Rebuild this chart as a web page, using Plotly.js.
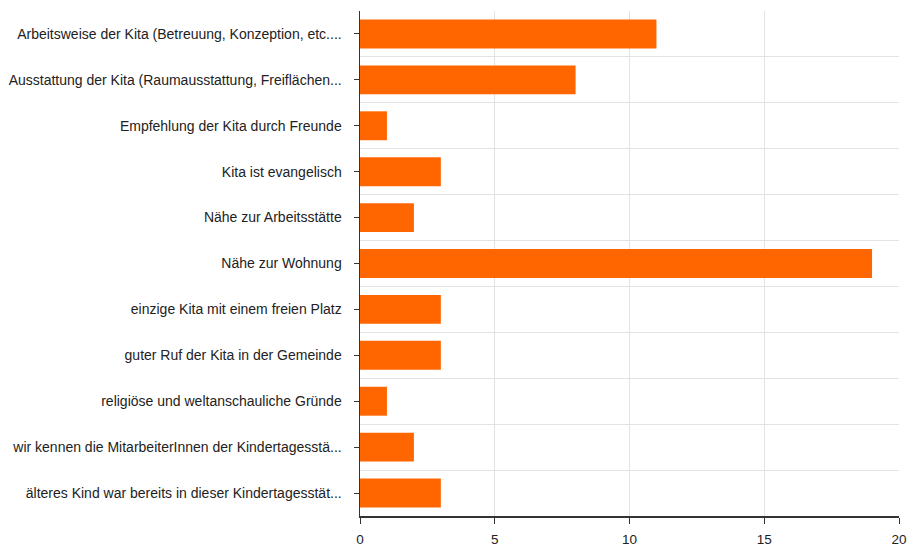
<!DOCTYPE html>
<html>
<head>
<meta charset="utf-8">
<script src="https://cdn.plot.ly/plotly-3.0.1.min.js"></script>
<style>html,body{margin:0;padding:0;background:#fff;}#chart{width:917px;height:547px;}</style>
</head>
<body>
<div id="chart"></div>
<script>
const categories = [
  "Arbeitsweise der Kita (Betreuung, Konzeption, etc....",
  "Ausstattung der Kita (Raumausstattung, Freiflächen...",
  "Empfehlung der Kita durch Freunde",
  "Kita ist evangelisch",
  "Nähe zur Arbeitsstätte",
  "Nähe zur Wohnung",
  "einzige Kita mit einem freien Platz",
  "guter Ruf der Kita in der Gemeinde",
  "religiöse und weltanschauliche Gründe",
  "wir kennen die MitarbeiterInnen der Kindertagesstä...",
  "älteres Kind war bereits in dieser Kindertagesstät..."
];
const counts = [11, 8, 1, 3, 2, 19, 3, 3, 1, 2, 3];
const xTicks = [0, 5, 10, 15, 20];

const positions = categories.map((_, i) => i);

const trace = {
  type: 'bar',
  orientation: 'h',
  x: counts,
  y: positions,
  marker: {color: '#ff6600'},
  hoverinfo: 'x+text',
  text: categories,
  textposition: 'none'
};

const layout = {
  width: 917,
  height: 547,
  margin: {l: 360, r: 18, t: 11, b: 31},
  paper_bgcolor: '#ffffff',
  plot_bgcolor: '#ffffff',
  bargap: 0.37,
  showlegend: false,
  font: {family: 'Liberation Sans, Arial, sans-serif', size: 14, color: '#222'},
  xaxis: {
    range: [0, 20],
    tickvals: xTicks,
    ticks: 'outside',
    ticklen: 6,
    tickcolor: '#333',
    ticklabelstandoff: 4,
    tickfont: {size: 13.5},
    showgrid: true,
    gridcolor: '#e3e3e3',
    zeroline: false,
    showline: true,
    linecolor: '#333',
    linewidth: 1.5,
    fixedrange: true
  },
  yaxis: {
    range: [categories.length - 0.5, -0.5],
    tickvals: positions,
    ticktext: categories,
    ticks: 'outside',
    ticklen: 5,
    tickcolor: '#333',
    ticklabelstandoff: 9,
    showgrid: false,
    minor: {tick0: 0.5, dtick: 1, showgrid: true, gridcolor: '#e3e3e3', ticks: ''},
    zeroline: false,
    showline: true,
    linecolor: '#333',
    linewidth: 1.5,
    fixedrange: true
  }
};

Plotly.newPlot('chart', [trace], layout, {displayModeBar: false, staticPlot: true});
</script>
</body>
</html>
